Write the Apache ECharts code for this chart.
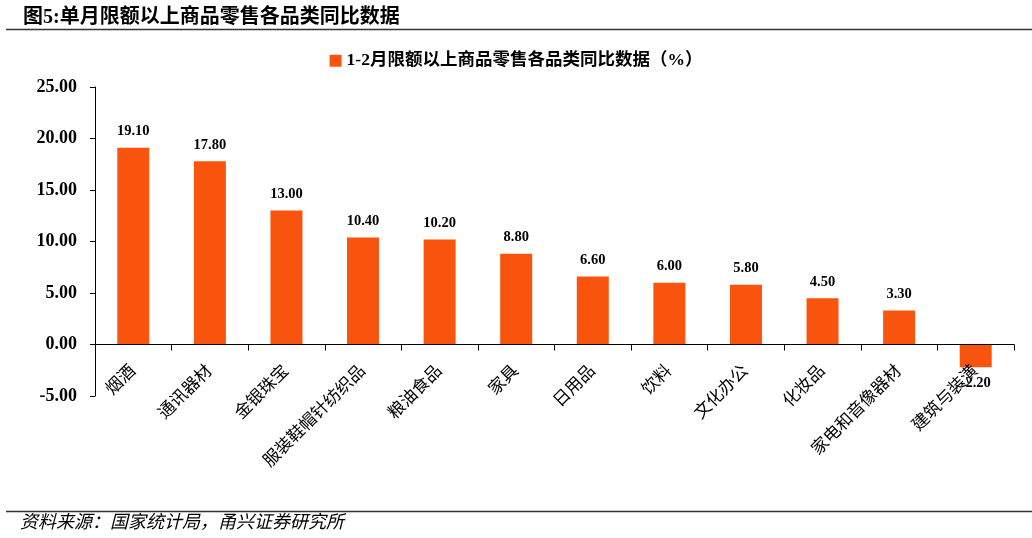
<!DOCTYPE html>
<html><head><meta charset="utf-8">
<script src="https://cdn.jsdelivr.net/npm/echarts@6/dist/echarts.min.js"></script>
<style>html,body{margin:0;padding:0;background:#fff}#c{width:1032px;height:538px}</style>
</head><body><div id="c"></div>
<script>
var categories = ['烟酒','通讯器材','金银珠宝','服装鞋帽针纺织品','粮油食品','家具','日用品','饮料','文化办公','化妆品','家电和音像器材','建筑与装潢'];
var values = [19.10, 17.80, 13.00, 10.40, 10.20, 8.80, 6.60, 6.00, 5.80, 4.50, 3.30, -2.20];
var seriesName = '1-2月限额以上商品零售各品类同比数据（%）';
var yTicks = {min: -5, max: 25, interval: 5};

var serif = '"Liberation Serif","Noto Sans CJK SC",serif';
var cjk = '"Liberation Serif","Noto Sans CJK SC",serif';
var chart = echarts.init(document.getElementById('c'));
chart.setOption({
  animation: false,
  title: {text: '图5:单月限额以上商品零售各品类同比数据', left: 18, top: 3,
    textStyle: {fontFamily: cjk, fontSize: 20, fontWeight: 'bold', color: '#000'}},
  legend: {top: 47, left: 'center', itemWidth: 12, itemHeight: 12, icon: 'rect', itemGap: 4,
    textStyle: {fontFamily: cjk, fontSize: 17.5, fontWeight: 'bold', color: '#000'}},
  grid: {left: 95, right: 18, top: 87, bottom: 142, containLabel: false},
  xAxis: {type: 'category', data: categories, offset: -51.5, z: 5,
    axisLine: {onZero: false, lineStyle: {color: '#000', width: 1}},
    axisTick: {show: true, alignWithLabel: false, length: 6, lineStyle: {color: '#000'}},
    axisLabel: {rotate: 45, interval: 0, fontFamily: cjk, fontSize: 17, color: '#000', margin: 24}},
  yAxis: {type: 'value', min: yTicks.min, max: yTicks.max, interval: yTicks.interval,
    splitLine: {show: false},
    axisLine: {show: true, lineStyle: {color: '#000'}},
    axisTick: {show: true, length: 5, lineStyle: {color: '#000'}},
    axisLabel: {formatter: function(v){return v.toFixed(2);}, fontFamily: serif, fontSize: 18, fontWeight: 'bold', color: '#000', margin: 18}},
  series: [{name: seriesName, type: 'bar', barWidth: 32,
    itemStyle: {color: '#F9540E'},
    data: values.map(function(v){return {value: v, label: {position: v < 0 ? 'bottom' : 'top'}};}),
    label: {show: true, formatter: function(p){return p.value.toFixed(2);}, fontFamily: serif, fontSize: 14.5, fontWeight: 'bold', color: '#000', distance: 9}}],
  graphic: [
    {type: 'line', shape: {x1: 6, y1: 29.5, x2: 1032, y2: 29.5}, style: {stroke: '#333', lineWidth: 1.5}},
    {type: 'line', shape: {x1: 6, y1: 511.5, x2: 1032, y2: 511.5}, style: {stroke: '#333', lineWidth: 1.5}},
    {type: 'text', left: 20, top: 514, style: {text: '资料来源：国家统计局，甬兴证券研究所', font: 'italic 18px "Liberation Serif","Noto Sans CJK SC",serif', fill: '#000'}}
  ]
});
</script></body></html>
